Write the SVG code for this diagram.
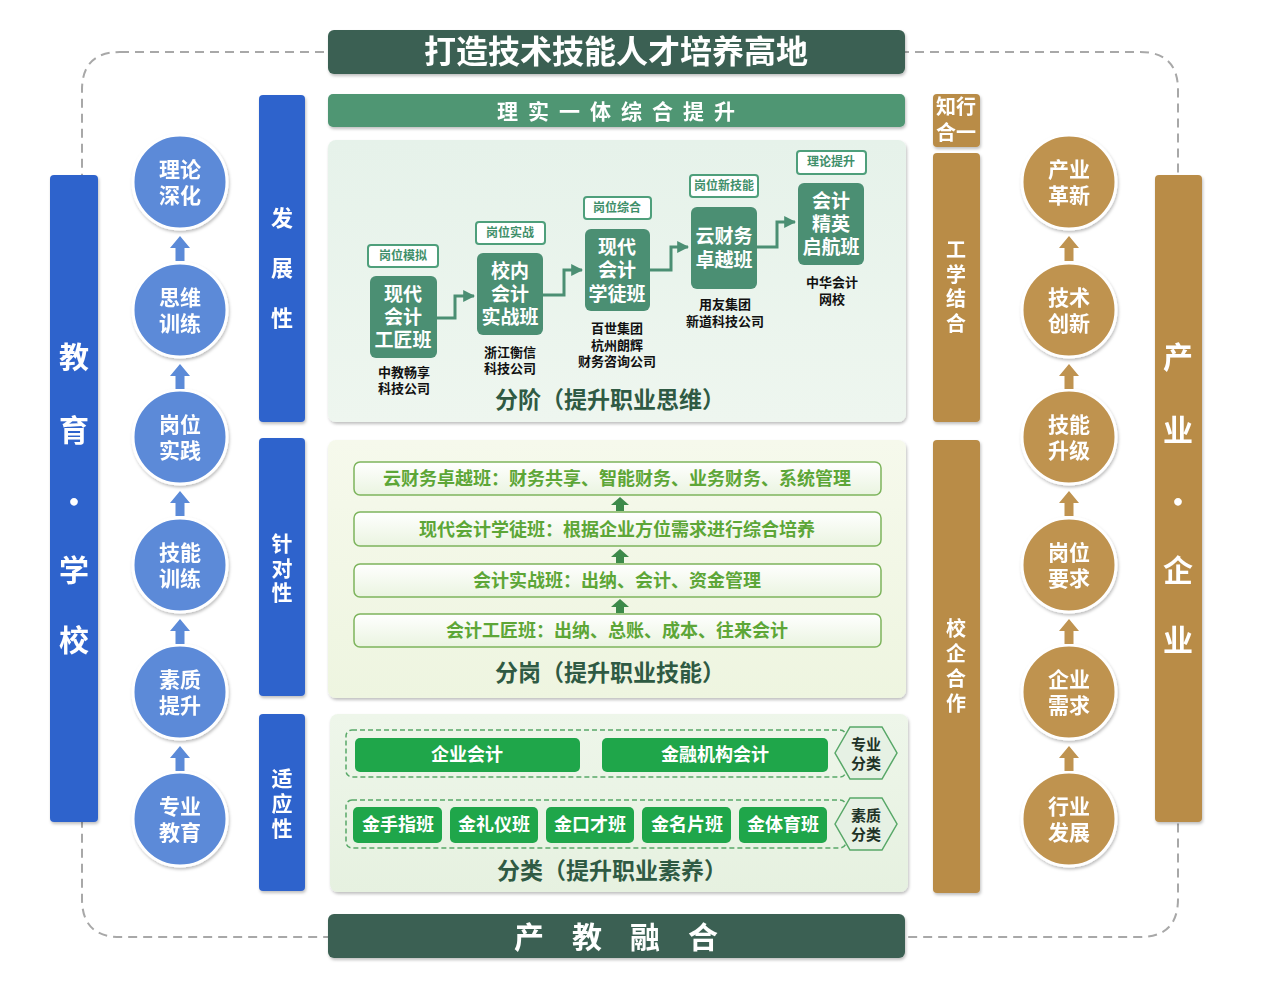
<svg xmlns="http://www.w3.org/2000/svg" width="1269" height="1002" viewBox="0 0 1269 1002">
<defs>
<style>
text{font-family:"Liberation Sans","Noto Sans CJK SC",sans-serif;font-weight:bold;text-anchor:middle;dominant-baseline:central}
.w{fill:#ffffff}
.dot{font-family:"Noto Sans CJK SC",sans-serif}
.blueBar{fill:#2f63cc}
.goldBar{fill:#b98c47}
.bc{fill:#5b8ad8;stroke:#ffffff;stroke-width:3}
.gc{fill:#bf9350;stroke:#ffffff;stroke-width:3}
.ct{fill:#ffffff;font-size:21px}
.step{fill:#4b8f73}
.st{fill:#ffffff;font-size:19px}
.tag{fill:#ffffff;stroke:#4e9f7b;stroke-width:2}
.tt{fill:#3f8f6a;font-size:12px}
.cap{fill:#111111;font-size:13px}
.row{fill:url(#rowG);stroke:#7db45c;stroke-width:1.5}
.rt{fill:#5da637;font-size:18px}
.sub{fill:#2f5a43;font-size:23px}
.gbox{fill:#1fa64a}
.gt{fill:#ffffff;font-size:18px}
.dash{fill:none;stroke:#58a868;stroke-width:1.5;stroke-dasharray:5 3}
.hex{fill:#e6f1e4;stroke:#58a868;stroke-width:1.5}
.ht{fill:#1f3327;font-size:15px}
.vb{fill:#ffffff;font-size:30px}
.vl{fill:#ffffff;font-size:21px}
.vg{fill:#ffffff;font-size:20px}
.conn{fill:none;stroke:#4b8f73;stroke-width:3}
</style>
<linearGradient id="p1" x1="0" y1="0" x2="0" y2="1"><stop offset="0" stop-color="#e6f2ea"/><stop offset="1" stop-color="#eef6ef"/></linearGradient>
<linearGradient id="p2" x1="0" y1="0" x2="0" y2="1"><stop offset="0" stop-color="#f6f9ec"/><stop offset="1" stop-color="#eef5e0"/></linearGradient>
<linearGradient id="p3" x1="0" y1="0" x2="0" y2="1"><stop offset="0" stop-color="#eef6ea"/><stop offset="1" stop-color="#e6f1e0"/></linearGradient>
<linearGradient id="rowG" x1="0" y1="0" x2="0" y2="1"><stop offset="0" stop-color="#ffffff"/><stop offset="1" stop-color="#eaf4e0"/></linearGradient>
<filter id="sh" x="-10%" y="-10%" width="120%" height="130%"><feDropShadow dx="1" dy="2" stdDeviation="1.5" flood-color="#000000" flood-opacity="0.25"/></filter>
<marker id="ah" viewBox="0 0 10 10" refX="9" refY="5" markerWidth="4" markerHeight="4" orient="auto"><path d="M0,0 L10,5 L0,10 z" fill="#4b8f73"/></marker>
<path id="upB" d="M0,-12 L10,0 L4.5,0 L4.5,13 L-4.5,13 L-4.5,0 L-10,0 z"/>
<path id="upS" d="M0,-8 L9,0 L4,0 L4,6 L-4,6 L-4,0 L-9,0 z"/>
</defs>
<rect width="1269" height="1002" fill="#ffffff"/>
<path d="M120,52 L1140,52 Q1178,52 1178,90 L1178,899 Q1178,937 1140,937 L120,937 Q82,937 82,899 L82,90 Q82,52 120,52 z" fill="none" stroke="#a8a8a8" stroke-width="2" stroke-dasharray="9 6"/>

<g id="banner-top" filter="url(#sh)"><rect x="328" y="30" width="577" height="44" rx="6" fill="#3b6152"/><text x="616" y="52" class="w" style="font-size:32px">打造技术技能人才培养高地</text></g>
<g id="banner-sub" filter="url(#sh)"><rect x="328" y="94" width="577" height="33" rx="5" fill="#4f9673"/><text x="621" y="111" class="w" style="font-size:21px;letter-spacing:10px">理实一体综合提升</text></g>
<g id="banner-bottom" filter="url(#sh)"><rect x="328" y="914" width="577" height="44" rx="6" fill="#3b6152"/><text x="630" y="937" class="w" style="font-size:30px;letter-spacing:28px">产教融合</text></g>

<g id="bar-school" filter="url(#sh)"><rect x="50" y="175" width="48" height="647" rx="4" class="blueBar"/>
<text class="vb"><tspan x="74" y="357">教</tspan><tspan x="74" y="430">育</tspan><tspan x="74" y="500" class="dot">·</tspan><tspan x="74" y="570">学</tspan><tspan x="74" y="640">校</tspan></text></g>

<g id="bar-industry" filter="url(#sh)"><rect x="1155" y="175" width="47" height="647" rx="4" class="goldBar"/>
<text class="vb"><tspan x="1178" y="357">产</tspan><tspan x="1178" y="430">业</tspan><tspan x="1178" y="500" class="dot">·</tspan><tspan x="1178" y="570">企</tspan><tspan x="1178" y="640">业</tspan></text></g>

<g id="c-llsh" filter="url(#sh)"><circle cx="180" cy="182" r="47" class="bc"/><text class="ct"><tspan x="180" y="169">理论</tspan><tspan x="180" y="195">深化</tspan></text></g>
<g id="c-swxl" filter="url(#sh)"><circle cx="180" cy="310" r="47" class="bc"/><text class="ct"><tspan x="180" y="297">思维</tspan><tspan x="180" y="323">训练</tspan></text></g>
<g id="c-gwsj" filter="url(#sh)"><circle cx="180" cy="437" r="47" class="bc"/><text class="ct"><tspan x="180" y="424">岗位</tspan><tspan x="180" y="450">实践</tspan></text></g>
<g id="c-jnxl" filter="url(#sh)"><circle cx="180" cy="565" r="47" class="bc"/><text class="ct"><tspan x="180" y="552">技能</tspan><tspan x="180" y="578">训练</tspan></text></g>
<g id="c-szts" filter="url(#sh)"><circle cx="180" cy="692" r="47" class="bc"/><text class="ct"><tspan x="180" y="679">素质</tspan><tspan x="180" y="705">提升</tspan></text></g>
<g id="c-zyjy" filter="url(#sh)"><circle cx="180" cy="819" r="47" class="bc"/><text class="ct"><tspan x="180" y="806">专业</tspan><tspan x="180" y="832">教育</tspan></text></g>

<g id="c-cygx" filter="url(#sh)"><circle cx="1069" cy="182" r="47" class="gc"/><text class="ct"><tspan x="1069" y="169">产业</tspan><tspan x="1069" y="195">革新</tspan></text></g>
<g id="c-jscx" filter="url(#sh)"><circle cx="1069" cy="310" r="47" class="gc"/><text class="ct"><tspan x="1069" y="297">技术</tspan><tspan x="1069" y="323">创新</tspan></text></g>
<g id="c-jnsj" filter="url(#sh)"><circle cx="1069" cy="437" r="47" class="gc"/><text class="ct"><tspan x="1069" y="424">技能</tspan><tspan x="1069" y="450">升级</tspan></text></g>
<g id="c-gwyq" filter="url(#sh)"><circle cx="1069" cy="565" r="47" class="gc"/><text class="ct"><tspan x="1069" y="552">岗位</tspan><tspan x="1069" y="578">要求</tspan></text></g>
<g id="c-qyxq" filter="url(#sh)"><circle cx="1069" cy="692" r="47" class="gc"/><text class="ct"><tspan x="1069" y="679">企业</tspan><tspan x="1069" y="705">需求</tspan></text></g>
<g id="c-hyfz" filter="url(#sh)"><circle cx="1069" cy="819" r="47" class="gc"/><text class="ct"><tspan x="1069" y="806">行业</tspan><tspan x="1069" y="832">发展</tspan></text></g>

<g id="lbl-fzx" filter="url(#sh)"><rect x="259" y="95" width="46" height="327" rx="4" class="blueBar"/><text class="vl" style="font-size:22px"><tspan x="282" y="218">发</tspan><tspan x="282" y="268">展</tspan><tspan x="282" y="318">性</tspan></text></g>
<g id="lbl-zdx" filter="url(#sh)"><rect x="259" y="438" width="46" height="258" rx="4" class="blueBar"/><text class="vl"><tspan x="282" y="543">针</tspan><tspan x="282" y="567.5">对</tspan><tspan x="282" y="592">性</tspan></text></g>
<g id="lbl-syx" filter="url(#sh)"><rect x="259" y="714" width="46" height="177" rx="4" class="blueBar"/><text class="vl"><tspan x="282" y="778">适</tspan><tspan x="282" y="803">应</tspan><tspan x="282" y="828">性</tspan></text></g>

<g id="lbl-zxhy" filter="url(#sh)"><rect x="933" y="94" width="47" height="53" rx="4" class="goldBar"/><text class="vg"><tspan x="956" y="107">知行</tspan><tspan x="956" y="133">合一</tspan></text></g>
<g id="lbl-gxjh" filter="url(#sh)"><rect x="933" y="153" width="47" height="269" rx="4" class="goldBar"/><text class="vg"><tspan x="956" y="250">工</tspan><tspan x="956" y="274.5">学</tspan><tspan x="956" y="299">结</tspan><tspan x="956" y="323.5">合</tspan></text></g>
<g id="lbl-xqhz" filter="url(#sh)"><rect x="933" y="440" width="47" height="453" rx="4" class="goldBar"/><text class="vg"><tspan x="956" y="629">校</tspan><tspan x="956" y="654">企</tspan><tspan x="956" y="679">合</tspan><tspan x="956" y="704">作</tspan></text></g>

<g id="panel-fenjie"><rect x="328" y="140" width="578" height="282" rx="8" fill="url(#p1)" filter="url(#sh)"/><text x="610" y="400" class="sub">分阶（提升职业思维）</text></g>
<g id="panel-fengang"><rect x="328" y="440" width="578" height="258" rx="8" fill="url(#p2)" filter="url(#sh)"/><text x="610" y="673" class="sub">分岗（提升职业技能）</text></g>
<g id="panel-fenlei"><rect x="330" y="714" width="578" height="178" rx="8" fill="url(#p3)" filter="url(#sh)"/><text x="612" y="871" class="sub">分类（提升职业素养）</text></g>

<g id="step1"><rect x="368" y="245" width="70" height="22" rx="3" class="tag"/><text x="403" y="256" class="tt">岗位模拟</text>
<rect x="370" y="276" width="67" height="82" rx="6" class="step"/><text class="st"><tspan x="403" y="294">现代</tspan><tspan x="403" y="317">会计</tspan><tspan x="403" y="340">工匠班</tspan></text>
<text class="cap"><tspan x="404" y="372">中教畅享</tspan><tspan x="404" y="388">科技公司</tspan></text></g>
<g id="step2"><rect x="476" y="222" width="69" height="22" rx="3" class="tag"/><text x="510" y="233" class="tt">岗位实战</text>
<rect x="477" y="253" width="66" height="82" rx="6" class="step"/><text class="st"><tspan x="510" y="271">校内</tspan><tspan x="510" y="294">会计</tspan><tspan x="510" y="317">实战班</tspan></text>
<text class="cap"><tspan x="510" y="352">浙江衡信</tspan><tspan x="510" y="368">科技公司</tspan></text></g>
<g id="step3"><rect x="584" y="197" width="67" height="22" rx="3" class="tag"/><text x="617" y="208" class="tt">岗位综合</text>
<rect x="585" y="229" width="65" height="82" rx="6" class="step"/><text class="st"><tspan x="617" y="247">现代</tspan><tspan x="617" y="270">会计</tspan><tspan x="617" y="294">学徒班</tspan></text>
<text class="cap"><tspan x="617" y="328">百世集团</tspan><tspan x="617" y="345">杭州朗辉</tspan><tspan x="617" y="361">财务咨询公司</tspan></text></g>
<g id="step4"><rect x="690" y="175" width="68" height="22" rx="3" class="tag"/><text x="724" y="186" class="tt">岗位新技能</text>
<rect x="691" y="207" width="66" height="82" rx="6" class="step"/><text class="st"><tspan x="724" y="236">云财务</tspan><tspan x="724" y="260">卓越班</tspan></text>
<text class="cap"><tspan x="725" y="304">用友集团</tspan><tspan x="725" y="321">新道科技公司</tspan></text></g>
<g id="step5"><rect x="797" y="151" width="69" height="23" rx="3" class="tag"/><text x="831" y="162" class="tt">理论提升</text>
<rect x="798" y="183" width="66" height="82" rx="6" class="step"/><text class="st"><tspan x="831" y="201">会计</tspan><tspan x="831" y="224">精英</tspan><tspan x="831" y="247">启航班</tspan></text>
<text class="cap"><tspan x="832" y="282">中华会计</tspan><tspan x="832" y="299">网校</tspan></text></g>

<g id="row4"><rect x="354" y="462" width="527" height="33" rx="6" class="row"/><text x="617" y="479" class="rt">云财务卓越班：财务共享、智能财务、业务财务、系统管理</text></g>
<g id="row3"><rect x="354" y="512" width="527" height="34" rx="6" class="row"/><text x="617" y="530" class="rt">现代会计学徒班：根据企业方位需求进行综合培养</text></g>
<g id="row2"><rect x="354" y="564" width="527" height="33" rx="6" class="row"/><text x="617" y="581" class="rt">会计实战班：出纳、会计、资金管理</text></g>
<g id="row1"><rect x="354" y="614" width="527" height="33" rx="6" class="row"/><text x="617" y="631" class="rt">会计工匠班：出纳、总账、成本、往来会计</text></g>

<g id="grp-major"><rect x="346" y="730" width="500" height="47" rx="6" class="dash"/>
<rect x="355" y="738" width="225" height="34" rx="5" class="gbox"/><text x="467" y="755" class="gt">企业会计</text>
<rect x="602" y="738" width="226" height="34" rx="5" class="gbox"/><text x="715" y="755" class="gt">金融机构会计</text></g>
<g id="hex-major"><polygon points="835,753 850,727 882,727 897,753 882,779 850,779" class="hex"/><text class="ht"><tspan x="866" y="744">专业</tspan><tspan x="866" y="763">分类</tspan></text></g>
<g id="grp-quality"><rect x="346" y="800" width="500" height="48" rx="6" class="dash"/>
<rect x="353" y="807" width="89" height="36" rx="5" class="gbox"/><text x="398" y="825" class="gt">金手指班</text>
<rect x="450" y="807" width="88" height="36" rx="5" class="gbox"/><text x="494" y="825" class="gt">金礼仪班</text>
<rect x="546" y="807" width="88" height="36" rx="5" class="gbox"/><text x="590" y="825" class="gt">金口才班</text>
<rect x="642" y="807" width="89" height="36" rx="5" class="gbox"/><text x="687" y="825" class="gt">金名片班</text>
<rect x="739" y="807" width="88" height="36" rx="5" class="gbox"/><text x="783" y="825" class="gt">金体育班</text></g>
<g id="hex-quality"><polygon points="835,824 850,798 882,798 897,824 882,850 850,850" class="hex"/><text class="ht"><tspan x="866" y="815">素质</tspan><tspan x="866" y="834">分类</tspan></text></g>

<g id="connectors">
<path class="conn" d="M437,318 H455 V296 H474" marker-end="url(#ah)"/>
<path class="conn" d="M543,295 H564 V270 H582" marker-end="url(#ah)"/>
<path class="conn" d="M650,270 H671 V247 H688" marker-end="url(#ah)"/>
<path class="conn" d="M757,247 H777 V222 H795" marker-end="url(#ah)"/>
<g fill="#5b8ad8">
<use href="#upB" x="180" y="248"/><use href="#upB" x="180" y="376"/><use href="#upB" x="180" y="503"/><use href="#upB" x="180" y="631"/><use href="#upB" x="180" y="758"/>
</g>
<g fill="#bf9350">
<use href="#upB" x="1069" y="248"/><use href="#upB" x="1069" y="376"/><use href="#upB" x="1069" y="503"/><use href="#upB" x="1069" y="631"/><use href="#upB" x="1069" y="758"/>
</g>
<g fill="#3d8a4a">
<use href="#upS" x="620" y="505"/><use href="#upS" x="620" y="557"/><use href="#upS" x="620" y="607"/>
</g>
</g>
</svg>
